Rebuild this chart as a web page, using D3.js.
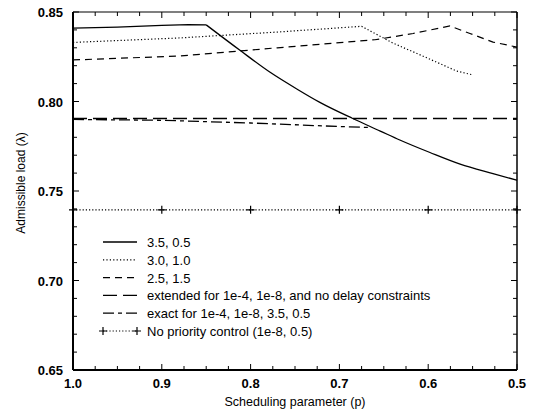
<!DOCTYPE html>
<html><head><meta charset="utf-8">
<script src="https://cdn.jsdelivr.net/npm/d3@7"></script>
<style>body{margin:0;background:#fff}svg{display:block}</style>
</head><body>
<svg id="c" width="536" height="414"></svg>
<script>
const xTicks = [1.0, 0.9, 0.8, 0.7, 0.6, 0.5];
const yTicks = [0.65, 0.70, 0.75, 0.80, 0.85];
const s35_p = [1.0, 0.95, 0.90, 0.87, 0.85, 0.812, 0.778, 0.748, 0.722, 0.685, 0.654, 0.632, 0.598, 0.564, 0.527, 0.5];
const s35_v = [0.841, 0.8415, 0.8425, 0.843, 0.8428, 0.8286, 0.8163, 0.807, 0.7995, 0.7905, 0.7835, 0.7785, 0.7715, 0.765, 0.7597, 0.756];
const s30_p = [1.0, 0.88, 0.77, 0.675, 0.640, 0.601, 0.568, 0.551];
const s30_v = [0.833, 0.8355, 0.8388, 0.842, 0.8327, 0.8243, 0.817, 0.815];
const s25_p = [1.0, 0.88, 0.77, 0.66, 0.617, 0.5755, 0.553, 0.527, 0.5];
const s25_v = [0.8232, 0.8254, 0.830, 0.8345, 0.838, 0.8422, 0.838, 0.8332, 0.8304];
const ext_p = [1.0, 0.5];
const ext_v = [0.7905, 0.7905];
const exact_p = [1.0, 0.9, 0.8, 0.7, 0.666];
const exact_v = [0.790, 0.7895, 0.788, 0.786, 0.7855];
const np_p = [1.0, 0.9, 0.8, 0.7, 0.6, 0.5];
const np_v = [0.7395, 0.7395, 0.7395, 0.7395, 0.7395, 0.7395];
const legendLabels = ["3.5, 0.5", "3.0, 1.0", "2.5, 1.5", "extended for 1e-4, 1e-8, and no delay constraints", "exact for 1e-4, 1e-8, 3.5, 0.5", "No priority control (1e-8, 0.5)"];

const W = 536, H = 414, m = {l:73, r:19, t:12, b:44};
const svg = d3.select("#c");
const x = d3.scaleLinear().domain([1.0, 0.5]).range([m.l, W - m.r]);
const y = d3.scaleLinear().domain([0.65, 0.85]).range([H - m.b, m.t]);
const font = "'Liberation Sans', Arial, sans-serif";

const xMinor = d3.range(0, 21).map(i => 1.0 - i * 0.025);
const yMinor = d3.range(0, 21).map(i => 0.65 + i * 0.01);
const tk = svg.append("g").attr("stroke", "#000").attr("stroke-width", 1);
xMinor.forEach((v, i) => {
  const L = (i % 4 === 0) ? 6 : 4;
  tk.append("line").attr("x1", x(v)).attr("x2", x(v)).attr("y1", y(0.65)).attr("y2", y(0.65) - L);
  tk.append("line").attr("x1", x(v)).attr("x2", x(v)).attr("y1", y(0.85)).attr("y2", y(0.85) + L);
});
yMinor.forEach((v, i) => {
  const L = (i % 5 === 0) ? 6 : 4;
  tk.append("line").attr("y1", y(v)).attr("y2", y(v)).attr("x1", x(1.0)).attr("x2", x(1.0) + L);
  tk.append("line").attr("y1", y(v)).attr("y2", y(v)).attr("x1", x(0.5)).attr("x2", x(0.5) - L);
});

svg.append("line").attr("x1", x(1.0)).attr("x2", x(0.5)).attr("y1", y(0.85)).attr("y2", y(0.85)).attr("stroke", "#000").attr("stroke-width", 1.2);
svg.append("line").attr("x1", x(0.5)).attr("x2", x(0.5)).attr("y1", y(0.85)).attr("y2", y(0.65)).attr("stroke", "#000").attr("stroke-width", 1.5);
svg.append("line").attr("x1", x(1.0)).attr("x2", x(1.0)).attr("y1", y(0.85)).attr("y2", y(0.65)).attr("stroke", "#000").attr("stroke-width", 2);
svg.append("line").attr("x1", x(1.0)).attr("x2", x(0.5)).attr("y1", y(0.65)).attr("y2", y(0.65)).attr("stroke", "#000").attr("stroke-width", 2);

svg.append("g").selectAll("text").data(xTicks).join("text")
  .attr("x", d => x(d)).attr("y", y(0.65) + 18).attr("text-anchor", "middle")
  .attr("font-family", font).attr("font-size", 13).attr("font-weight", "bold").text(d => d.toFixed(1));
svg.append("g").selectAll("text").data(yTicks).join("text")
  .attr("x", x(1.0) - 10).attr("y", d => y(d) + 5).attr("text-anchor", "end")
  .attr("font-family", font).attr("font-size", 13).attr("font-weight", "bold").text(d => d.toFixed(2));

svg.append("text").attr("x", (x(1.0) + x(0.5)) / 2).attr("y", 406).attr("text-anchor", "middle")
  .attr("font-family", font).attr("font-size", 12.5).text("Scheduling parameter (p)");
svg.append("text").attr("transform", "translate(25,183) rotate(-90)").attr("text-anchor", "middle")
  .attr("font-family", font).attr("font-size", 12).text("Admissible load (λ)");

const series = [
  {p: s35_p, v: s35_v, dash: null, w: 1.3, kink: 4},
  {p: s30_p, v: s30_v, dash: "1.2,2.2", w: 1.2},
  {p: s25_p, v: s25_v, dash: "7,5", w: 1.2},
  {p: ext_p, v: ext_v, dash: "14,6", w: 1.3},
  {p: exact_p, v: exact_v, dash: "11,4,4,4", w: 1.3},
  {p: np_p, v: np_v, dash: "1.2,2", w: 1.2, marks: true}
];
const line = d3.line().x(d => x(d[0])).y(d => y(d[1]));
const smooth = d3.line().x(d => x(d[0])).y(d => y(d[1])).curve(d3.curveMonotoneX);
const plot = svg.append("g");
series.forEach(s => {
  const pts = s.p.map((p, i) => [p, s.v[i]]);
  if (s.kink !== undefined) {
    plot.append("path").attr("d", line(pts.slice(0, s.kink + 1))).attr("fill", "none").attr("stroke", "#000").attr("stroke-width", s.w);
    plot.append("path").attr("d", smooth(pts.slice(s.kink))).attr("fill", "none").attr("stroke", "#000").attr("stroke-width", s.w);
  } else {
    plot.append("path").attr("d", line(pts)).attr("fill", "none").attr("stroke", "#000")
      .attr("stroke-width", s.w).attr("stroke-dasharray", s.dash);
  }
  if (s.marks) {
    pts.forEach(d => {
      const cx = x(d[0]), cy = y(d[1]);
      plot.append("path").attr("d", `M${cx-4},${cy}H${cx+4}M${cx},${cy-4}V${cy+4}`).attr("stroke", "#000").attr("stroke-width", 1.2);
    });
  }
});

const lg = svg.append("g");
legendLabels.forEach((t, i) => {
  const s = series[i];
  const ly = 242 + i * 17.8;
  lg.append("line").attr("x1", 103).attr("x2", 137).attr("y1", ly).attr("y2", ly)
    .attr("stroke", "#000").attr("stroke-width", s.w).attr("stroke-dasharray", s.dash);
  if (s.marks) {
    [103, 137].forEach(cx => lg.append("path").attr("d", `M${cx-4},${ly}H${cx+4}M${cx},${ly-4}V${ly+4}`).attr("stroke", "#000").attr("stroke-width", 1.2));
  }
  lg.append("text").attr("x", 147).attr("y", ly + 5).attr("font-family", font).attr("font-size", 13).text(t);
});
</script>
</body></html>
